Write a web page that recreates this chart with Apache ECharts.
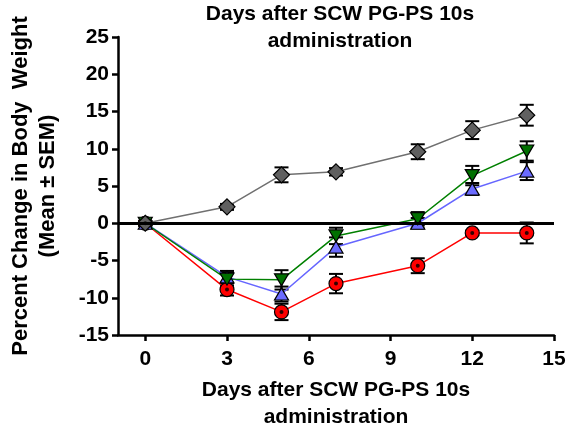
<!DOCTYPE html>
<html>
<head>
<meta charset="utf-8">
<script src="https://cdn.jsdelivr.net/npm/echarts@6/dist/echarts.min.js"></script>
<style>
  html, body { margin: 0; padding: 0; background: #fff; }
  #main { width: 568px; height: 425px; }
</style>
</head>
<body>
<div id="main"></div>
<script>
// days after injection
var days = [0, 3, 5, 7, 10, 12, 14];
var xTicks = [0, 3, 6, 9, 12, 15];

// mean % change and SEM per group
var greyMean = [0, 2.2, 6.5, 6.9, 9.6, 12.5, 14.5];
var greySem = [0.3, 0.4, 1.0, 0.5, 1.0, 1.2, 1.4];
var greenMean = [0, -7.5, -7.6, -1.7, 0.6, 6.4, 9.7];
var greenSem = [0.3, 0.9, 1.3, 1.1, 0.9, 1.3, 1.3];
var blueMean = [0, -7.2, -9.5, -3.2, 0, 4.6, 7.0];
var blueSem = [0.3, 0.8, 1.0, 1.3, 0.7, 0.8, 1.2];
var redMean = [0, -8.9, -11.9, -8.1, -5.7, -1.3, -1.3];
var redSem = [0.2, 0.8, 1.1, 1.3, 1.0, 0.3, 1.4];

var FONT = 'Liberation Sans, Arial, sans-serif';

function pairs(ys) {
    return days.map(function (d, i) { return [d, ys[i]]; });
}
function errData(ys, sems) {
    return days.map(function (d, i) { return [d, ys[i], sems[i]]; });
}

// vertical error bar with caps
function renderErr(params, api) {
    var x = api.value(0), m = api.value(1), s = api.value(2);
    var top = api.coord([x, m + s]);
    var bot = api.coord([x, m - s]);
    var half = 7;
    var st = { stroke: '#000', lineWidth: 2 };
    return {
        type: 'group',
        children: [
            { type: 'line', shape: { x1: top[0], y1: top[1], x2: bot[0], y2: bot[1] }, style: st },
            { type: 'line', shape: { x1: top[0] - half, y1: top[1], x2: top[0] + half, y2: top[1] }, style: st },
            { type: 'line', shape: { x1: bot[0] - half, y1: bot[1], x2: bot[0] + half, y2: bot[1] }, style: st }
        ]
    };
}

function errSeries(ys, sems) {
    return {
        type: 'custom',
        renderItem: renderErr,
        data: errData(ys, sems),
        z: 3,
        silent: true
    };
}

function lineSeries(name, ys, lineColor, fill, symbol, size, rotate) {
    return {
        name: name,
        type: 'line',
        data: pairs(ys),
        symbol: symbol,
        symbolSize: size,
        symbolRotate: rotate || 0,
        showAllSymbol: true,
        lineStyle: { color: lineColor, width: 1.5 },
        itemStyle: { color: fill, borderColor: '#000', borderWidth: 1.2 },
        z: 4
    };
}

var chart = echarts.init(document.getElementById('main'));

var option = {
    backgroundColor: '#fff',
    animation: false,
    textStyle: { fontFamily: FONT },
    graphic: [
        {
            type: 'text', x: 340, y: 1,
            style: {
                text: 'Days after SCW PG-PS 10s\nadministration',
                fontFamily: FONT, fontSize: 21, fontWeight: 'bold', fill: '#000',
                align: 'center', lineHeight: 27
            }
        }
    ],
    grid: { left: 118, right: 14, top: 37, bottom: 90, outerBoundsMode: 'none' },
    xAxis: {
        type: 'value',
        min: -1,
        max: 15,
        name: 'Days after SCW PG-PS 10s\nadministration',
        nameLocation: 'middle',
        nameGap: 42,
        nameTextStyle: { fontFamily: FONT, fontSize: 21, fontWeight: 'bold', color: '#000', lineHeight: 27 },
        splitLine: { show: false },
        axisLine: { onZero: false, lineStyle: { color: '#000', width: 2.5 } },
        axisTick: { customValues: xTicks, length: 6, lineStyle: { color: '#000', width: 2.5 } },
        axisLabel: { customValues: xTicks, margin: 14, fontFamily: FONT, fontSize: 21, fontWeight: 'bold', color: '#000' }
    },
    yAxis: {
        type: 'value',
        min: -15,
        max: 25,
        interval: 5,
        name: 'Percent Change in Body  Weight\n(Mean \u00b1 SEM)',
        nameLocation: 'middle',
        nameGap: 57,
        nameTextStyle: { fontFamily: FONT, fontSize: 22, fontWeight: 'bold', color: '#000', lineHeight: 27 },
        splitLine: { show: false },
        axisLine: { show: true, onZero: false, lineStyle: { color: '#000', width: 2.5 } },
        axisTick: { show: true, length: 6, lineStyle: { color: '#000', width: 2.5 } },
        axisLabel: { margin: 9, fontFamily: FONT, fontSize: 21, fontWeight: 'bold', color: '#000' }
    },
    series: [
        {
            type: 'line',
            data: [],
            markLine: {
                silent: true,
                symbol: 'none',
                label: { show: false },
                lineStyle: { color: '#000', width: 3, type: 'solid' },
                data: [{ yAxis: 0 }]
            },
            z: 2
        },
        errSeries(redMean, redSem),
        errSeries(blueMean, blueSem),
        errSeries(greenMean, greenSem),
        errSeries(greyMean, greySem),
        lineSeries('red', redMean, '#ff0000', '#ff0000', 'circle', 14),
        {
            type: 'scatter',
            data: pairs(redMean),
            symbol: 'circle',
            symbolSize: 4,
            itemStyle: { color: '#000' },
            z: 5
        },
        lineSeries('blue', blueMean, '#6666ff', '#6b6bff', 'triangle', [14, 12]),
        lineSeries('green', greenMean, '#008000', '#007000', 'triangle', [14, 12], 180),
        lineSeries('grey', greyMean, '#707070', '#606060', 'diamond', [16, 16])
    ]
};

chart.setOption(option);
</script>
</body>
</html>
